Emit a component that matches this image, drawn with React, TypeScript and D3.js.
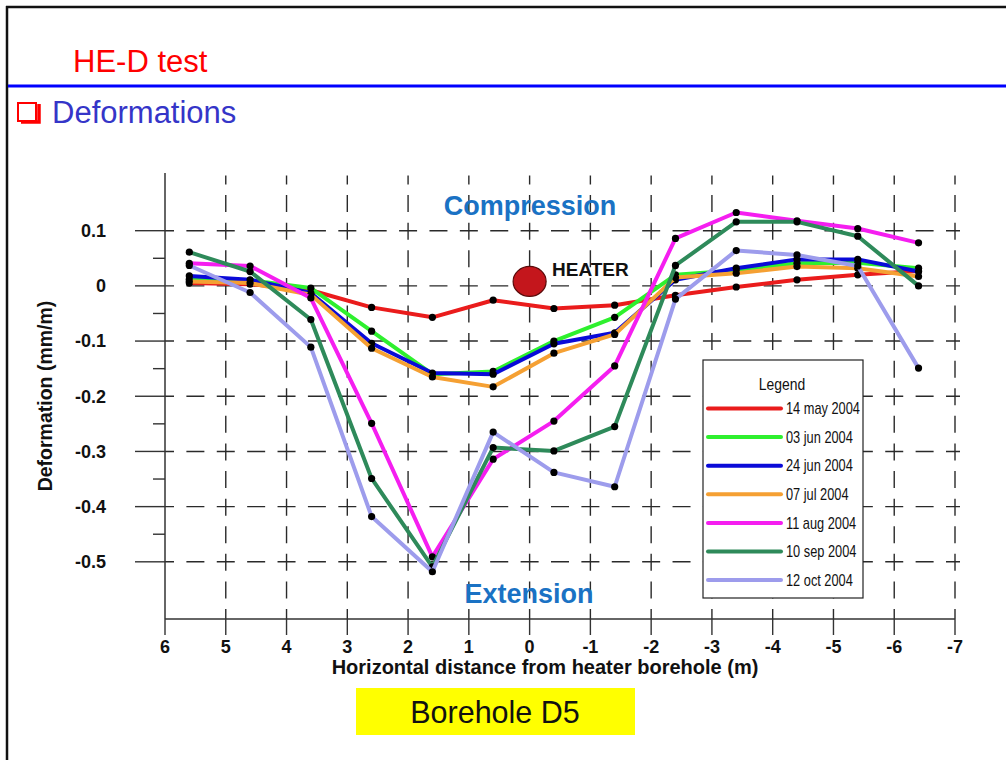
import React from "react";
import * as d3 from "d3";

const xPositions = [5.6, 4.6, 3.6, 2.6, 1.6, 0.6, -0.4, -1.4, -2.4, -3.4, -4.4, -5.4, -6.4];

const may14 = [0.005, 0.003, -0.008, -0.039, -0.057, -0.026, -0.041, -0.035, -0.017, -0.002, 0.011, 0.02, 0.027];
const jun03 = [0.012, 0.01, -0.004, -0.082, -0.16, -0.155, -0.1, -0.057, 0.02, 0.028, 0.041, 0.042, 0.032];
const jun24 = [0.018, 0.011, -0.013, -0.104, -0.158, -0.16, -0.105, -0.085, 0.011, 0.032, 0.048, 0.048, 0.026];
const jul07 = [0.008, 0.005, -0.016, -0.113, -0.165, -0.183, -0.122, -0.088, 0.015, 0.023, 0.035, 0.032, 0.017];
const aug11 = [0.041, 0.036, -0.022, -0.249, -0.491, -0.314, -0.245, -0.145, 0.086, 0.133, 0.118, 0.104, 0.078];
const sep10 = [0.061, 0.026, -0.061, -0.349, -0.509, -0.293, -0.299, -0.255, 0.037, 0.116, 0.116, 0.09, 0.0];
const oct12 = [0.037, -0.012, -0.111, -0.418, -0.518, -0.265, -0.338, -0.364, -0.024, 0.064, 0.056, 0.036, -0.149];

const seriesNames = ["14 may 2004", "03 jun 2004", "24 jun 2004", "07 jul 2004", "11 aug 2004", "10 sep 2004", "12 oct 2004"];
const seriesValues = [may14, jun03, jun24, jul07, aug11, sep10, oct12];
const seriesColors = ["#ea1c1c", "#2ef02e", "#0a0ad8", "#f5a033", "#f51ef0", "#2e8a5a", "#9d9cec"];

const xTicks = [6, 5, 4, 3, 2, 1, 0, -1, -2, -3, -4, -5, -6, -7];
const yMajorTicks = [0.1, 0, -0.1, -0.2, -0.3, -0.4, -0.5];
const yMinorTicks = [0.05, -0.05, -0.15, -0.25, -0.35, -0.45];

const heater = { x: 0, y: 0.008 };

const W = 1006;
const H = 760;
const AX_BOTTOM = 619;

export default function App() {
  const x = d3.scaleLinear().domain([6, -7]).range([165, 955]);
  const y = d3.scaleLinear().domain([-0.6, 0.2]).range([617, 175.5]);
  const line = d3
    .line<[number, number]>()
    .x((d) => x(d[0]))
    .y((d) => y(d[1]));

  const xPeriod = (x(5) - x(6)) / 2;
  const yPeriod = (y(0) - y(0.1)) / 2;
  const gridColor = "#2a2a2a";
  const sans = "'Liberation Sans', Arial, sans-serif";

  const legendX = 703;
  const legendY = 360;
  const legendW = 160;
  const legendH = 238;
  const legendRow = 28.6;

  return (
    <div style={{ position: "absolute", left: 0, top: 0, width: W, height: H, overflow: "hidden" }}>
      <svg width={W} height={H} style={{ display: "block", background: "#ffffff" }}>
        {/* slide frame */}
        <line x1={6} y1={7} x2={W} y2={7} stroke="#111" strokeWidth={2.5} />
        <line x1={7} y1={6} x2={7} y2={H} stroke="#111" strokeWidth={2.5} />
        <text x={73} y={72} fill="#ff0000" fontFamily={sans} fontSize={31}>
          HE-D test
        </text>
        <line x1={8} y1={86} x2={W} y2={86} stroke="#0000ff" strokeWidth={3} />
        {/* bullet */}
        <rect x={18} y={103} width={18} height={18} fill="none" stroke="#ff0000" strokeWidth={2} />
        <path d="M21,122 L39,122 L39,104" fill="none" stroke="#ff0000" strokeWidth={3.5} />
        <text x={52} y={123} fill="#3535c8" fontFamily={sans} fontSize={31}>
          Deformations
        </text>

        {/* horizontal grid */}
        {yMajorTicks.map((t) => (
          <line
            key={"hg" + t}
            x1={x(6)}
            x2={x(-7) + 5}
            y1={y(t)}
            y2={y(t)}
            stroke={gridColor}
            strokeWidth={1.4}
            strokeDasharray={`18 ${xPeriod - 18}`}
            strokeDashoffset={9}
          />
        ))}
        {/* vertical grid */}
        {xTicks.slice(1).map((t) => (
          <line
            key={"vg" + t}
            x1={x(t)}
            x2={x(t)}
            y1={y(0.2)}
            y2={AX_BOTTOM}
            stroke={gridColor}
            strokeWidth={1.4}
            strokeDasharray={`17 ${yPeriod - 17}`}
            strokeDashoffset={8}
          />
        ))}

        {/* axes */}
        <line x1={x(6)} x2={x(6)} y1={173} y2={AX_BOTTOM} stroke="#333" strokeWidth={1.5} />
        <line x1={x(6)} x2={x(-7)} y1={AX_BOTTOM} y2={AX_BOTTOM} stroke="#333" strokeWidth={1.5} />
        {yMajorTicks.map((t) => (
          <g key={"yt" + t}>
            <line x1={135} x2={x(6)} y1={y(t)} y2={y(t)} stroke="#333" strokeWidth={1.4} />
            <text x={106} y={y(t)} dy="0.35em" textAnchor="end" fontFamily={sans} fontWeight="bold" fontSize={18} fill="#111">
              {String(t)}
            </text>
          </g>
        ))}
        {yMinorTicks.map((t) => (
          <line key={"ym" + t} x1={153} x2={x(6)} y1={y(t)} y2={y(t)} stroke="#333" strokeWidth={1.4} />
        ))}
        {xTicks.map((t) => (
          <g key={"xt" + t}>
            <line x1={x(t)} x2={x(t)} y1={AX_BOTTOM} y2={AX_BOTTOM + 16} stroke="#333" strokeWidth={1.4} />
            <text x={x(t)} y={653} textAnchor="middle" fontFamily={sans} fontWeight="bold" fontSize={18} fill="#111">
              {String(t)}
            </text>
          </g>
        ))}
        <text x={545} y={674} textAnchor="middle" fontFamily={sans} fontWeight="bold" fontSize={20} fill="#111">
          Horizontal distance from heater borehole (m)
        </text>
        <text
          transform={`translate(52,396) rotate(-90)`}
          textAnchor="middle"
          fontFamily={sans}
          fontWeight="bold"
          fontSize={19.5}
          fill="#111"
        >
          Deformation (mm/m)
        </text>

        {/* annotations */}
        <text x={530} y={215} textAnchor="middle" fontFamily={sans} fontWeight="bold" fontSize={27} fill="#1a72c4">
          Compression
        </text>
        <text x={529} y={603} textAnchor="middle" fontFamily={sans} fontWeight="bold" fontSize={27} fill="#1a72c4">
          Extension
        </text>
        <ellipse cx={x(heater.x)} cy={y(heater.y)} rx={16.5} ry={15} fill="#c4161c" stroke="#5a0a0a" strokeWidth={1.2} />
        <text x={552} y={275.5} fontFamily={sans} fontWeight="bold" fontSize={19} fill="#111">
          HEATER
        </text>

        {/* series */}
        {seriesValues.map((vals, i) => {
          const pts: [number, number][] = xPositions.map((xv, j) => [xv, vals[j]]);
          return (
            <g key={"s" + i}>
              <path d={line(pts) || ""} fill="none" stroke={seriesColors[i]} strokeWidth={4} strokeLinejoin="round" />
              {pts.map((p, j) => (
                <circle key={j} cx={x(p[0])} cy={y(p[1])} r={3.6} fill="#000" />
              ))}
            </g>
          );
        })}

        {/* legend */}
        <rect x={legendX} y={legendY} width={legendW} height={legendH} fill="#fff" stroke="#222" strokeWidth={1.2} />
        <text transform="translate(782,390) scale(0.82,1)" textAnchor="middle" fontFamily={sans} fontSize={17} fill="#111">
          Legend
        </text>
        {seriesNames.map((n, i) => (
          <g key={"lg" + i}>
            <line
              x1={708}
              x2={781}
              y1={408.5 + i * legendRow}
              y2={408.5 + i * legendRow}
              stroke={seriesColors[i]}
              strokeWidth={4}
              strokeLinecap="round"
            />
            <text
              transform={`translate(786,${408.5 + i * legendRow}) scale(0.8,1)`}
              dy="0.35em"
              fontFamily={sans}
              fontSize={16}
              fill="#111"
            >
              {n}
            </text>
          </g>
        ))}

        {/* borehole label */}
        <rect x={356} y={688} width={279} height={47} fill="#ffff00" />
        <text x={495} y={723} textAnchor="middle" fontFamily={sans} fontSize={30.5} fill="#111">
          Borehole D5
        </text>
      </svg>
    </div>
  );
}
